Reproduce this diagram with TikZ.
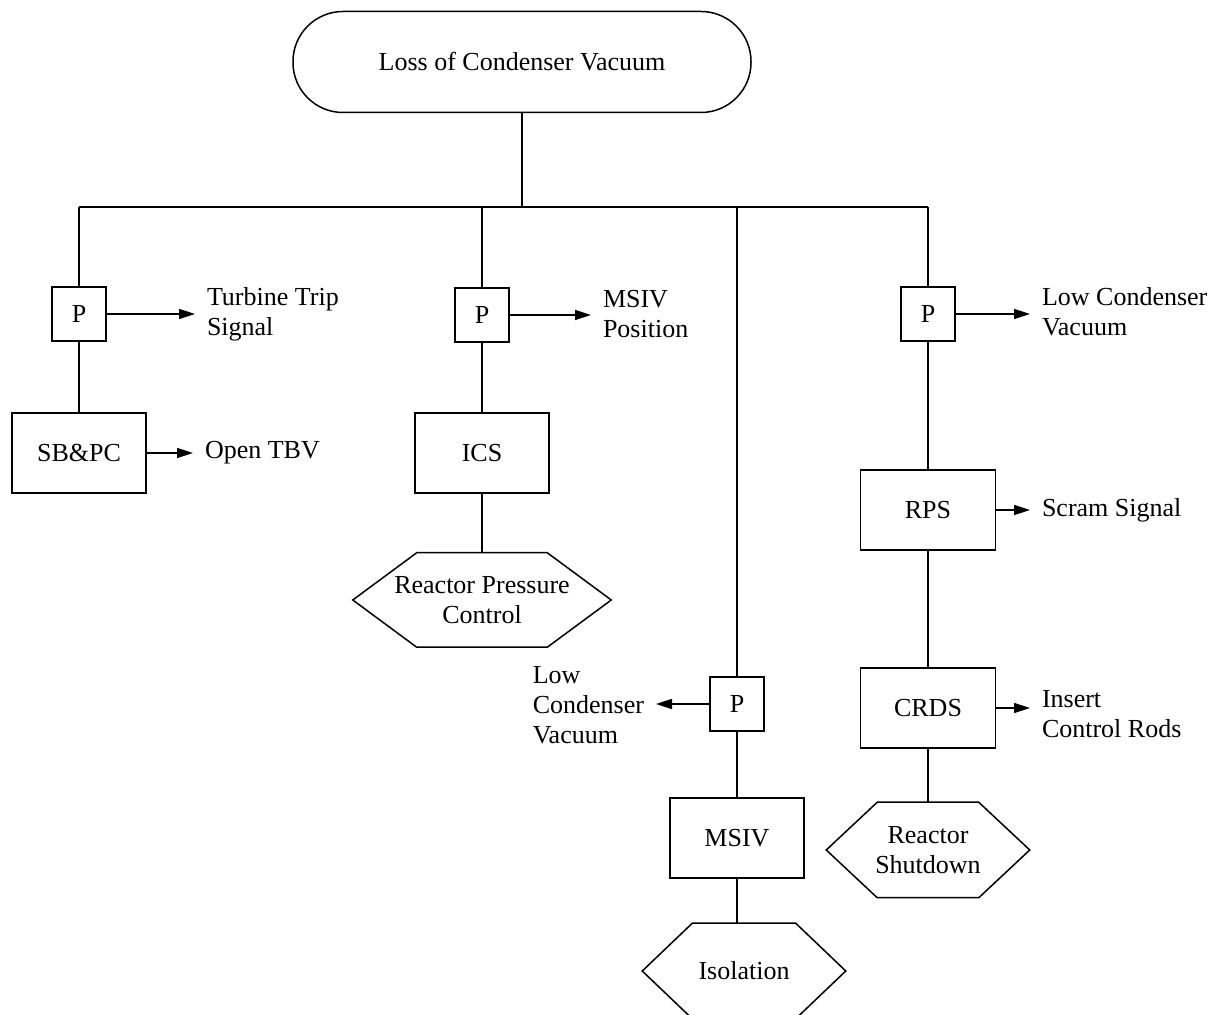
\documentclass[tikz,border=0pt]{standalone}
\usepackage{fontspec}
\setmainfont{Liberation Serif}
\usetikzlibrary{arrows.meta}

\tikzset{every picture/.style={line width=0.75pt}}
\tikzset{
  box/.style={draw, inner sep=0, minimum width=67pt, minimum height=40pt},
  pbox/.style={draw, inner sep=0, minimum width=27pt, minimum height=27pt},
  hexa/.style={inner sep=0, align=center},
  txt/.style={inner sep=0, outer sep=6pt, align=left},
  arr/.style={-{Triangle[length=8pt,width=5pt]}},
}

\begin{document}
\begin{tikzpicture}[x=0.5pt,y=0.5pt,yscale=-1,xscale=1,every node/.append style={font=\fontsize{13pt}{15pt}\selectfont}]
\useasboundingbox (0,0) rectangle (1212,1015);

%Shape: Rounded Rect
\node [draw, rounded corners=25pt, minimum width=229pt, minimum height=50.5pt] (loss) at (522,62) {Loss of Condenser Vacuum};
\coordinate (bus) at (522,207);

%Shape: Square (P)
\node [pbox] (p1) at (79,314) {P};
\node [pbox] (p2) at (482,315) {P};
\node [pbox] (p3) at (737,704) {P};
\node [pbox] (p4) at (928,314) {P};

%Shape: Rectangle
\node [box] (sbpc) at (79,453) {SB\&PC};
\node [box] (ics) at (482,453) {ICS};
\node [box] (msiv) at (737,838) {MSIV};
\node [box, minimum width=67.5pt] (rps) at (928,510) {RPS};
\node [box, minimum width=67.5pt] (crds) at (928,708) {CRDS};

%Shape: Hexagon
\node [hexa, minimum width=128.5pt, minimum height=46.5pt] (rpc) at (482,600) {Reactor Pressure\\Control};
\draw (rpc.west) -- ([xshift=32pt]rpc.north west) -- ([xshift=-32pt]rpc.north east) -- (rpc.east) -- ([xshift=-32pt]rpc.south east) -- ([xshift=32pt]rpc.south west) -- cycle;
\node [hexa, minimum width=101pt, minimum height=47pt] (iso) at (744,971) {Isolation};
\draw (iso.west) -- ([xshift=25pt]iso.north west) -- ([xshift=-25pt]iso.north east) -- (iso.east) -- ([xshift=-25pt]iso.south east) -- ([xshift=25pt]iso.south west) -- cycle;
\node [hexa, minimum width=101pt, minimum height=47pt] (rsd) at (928,850) {Reactor\\Shutdown};
\draw (rsd.west) -- ([xshift=25.5pt]rsd.north west) -- ([xshift=-25.5pt]rsd.north east) -- (rsd.east) -- ([xshift=-25.5pt]rsd.south east) -- ([xshift=25.5pt]rsd.south west) -- cycle;

% Text Node
\node [txt, anchor=west] (tts) at (195,314) {Turbine Trip\\Signal};
\node [txt, anchor=west] (otbv) at (193,453) {Open TBV};
\node [txt, anchor=west] (mpos) at (591,314) {MSIV\\Position};
\node [txt, anchor=west] (lcva) at (1030,312) {Low Condenser\\Vacuum};
\node [txt, anchor=west] (scram) at (1030,510) {Scram Signal};
\node [txt, anchor=west] (icr) at (1030,714) {Insert\\Control Rods};
\node [txt, anchor=east] (lcvb) at (656,705) {Low\\Condenser\\Vacuum};

%Straight Lines
\draw (loss.south) -- (bus);
\draw (p1.north |- bus) -- (p4.north |- bus);
\draw (p1.north |- bus) -- (p1.north);
\draw (p2.north |- bus) -- (p2.north);
\draw (p3.north |- bus) -- (p3.north);
\draw (p4.north |- bus) -- (p4.north);
\draw (p1.south) -- (sbpc.north);
\draw (p2.south) -- (ics.north);
\draw (ics.south) -- (rpc.north);
\draw (p3.south) -- (msiv.north);
\draw (msiv.south) -- (msiv.south |- iso.north);
\draw (p4.south) -- (rps.north);
\draw (rps.south) -- (crds.north);
\draw (crds.south) -- (rsd.north);

%Arrows
\draw [arr] (p1.east) -- (p1.east -| tts.west);
\draw [arr] (sbpc.east) -- (sbpc.east -| otbv.west);
\draw [arr] (p2.east) -- (p2.east -| mpos.west);
\draw [arr] (p3.west) -- (p3.west -| lcvb.east);
\draw [arr] (p4.east) -- (p4.east -| lcva.west);
\draw [arr] (rps.east) -- (rps.east -| scram.west);
\draw [arr] (crds.east) -- (crds.east -| icr.west);

\end{tikzpicture}
\end{document}
